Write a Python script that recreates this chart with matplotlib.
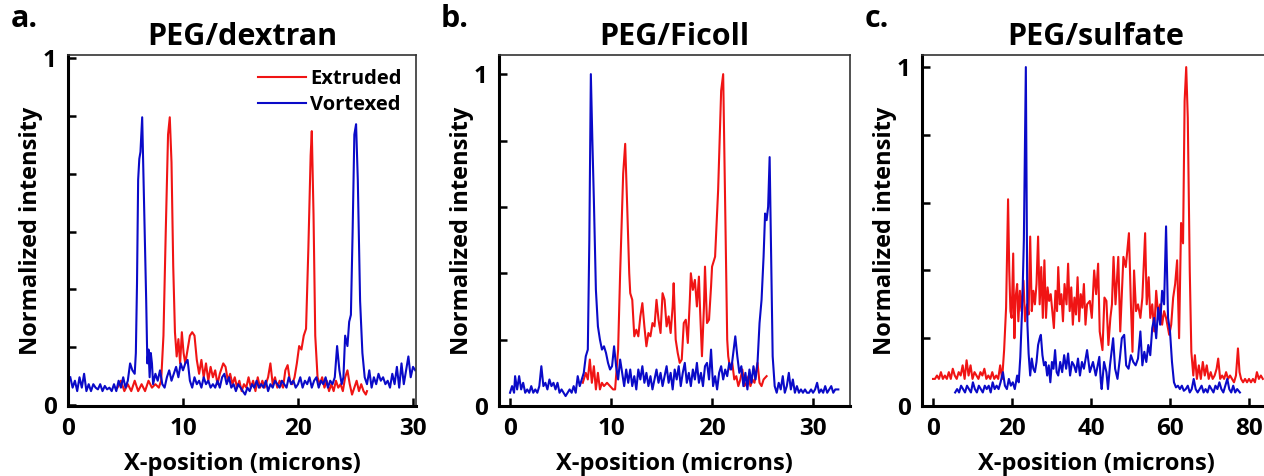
import matplotlib.pyplot as plt

plt.rcParams['font.family'] = ['Open Sans', 'DejaVu Sans']
plt.rcParams['font.weight'] = 'bold'

RED = '#f01414'
BLUE = '#0a0ac8'

# ---- panel a: PEG/dextran ----
a_ext_x = [4.3, 4.6, 4.9, 5.2, 5.5, 5.8, 6.1, 6.4, 6.7, 7.0, 7.3, 7.6, 7.9, 8.1, 8.3, 8.5, 8.7, 8.85, 9.0, 9.15,
           9.3, 9.45, 9.6, 9.75, 9.9, 10.05, 10.2, 10.4, 10.6, 10.8, 11.0, 11.2, 11.4, 11.6, 11.8, 12.0, 12.2, 12.4,
           12.6, 12.8, 13.0, 13.2, 13.5, 13.7, 13.9, 14.1, 14.3, 14.5, 14.7, 14.9, 15.1, 15.3, 15.5, 15.7, 15.9,
           16.1, 16.3, 16.5, 16.7, 16.9, 17.1, 17.4, 17.6, 17.8, 18.0, 18.2, 18.4, 18.7, 18.9, 19.1, 19.3, 19.5,
           19.7, 19.9, 20.1, 20.3, 20.5, 20.7, 20.9, 21.1, 21.2, 21.35, 21.5, 21.7, 21.9, 22.1, 22.3, 22.5, 22.7,
           22.9, 23.1, 23.3, 23.5, 23.7, 23.9, 24.1, 24.3, 24.5, 24.7, 24.9, 25.1, 25.3, 25.5, 25.7, 25.9, 26.0]
a_ext_y = [0.05, 0.07, 0.04, 0.06, 0.04, 0.07, 0.04, 0.06, 0.04, 0.07, 0.05, 0.06, 0.05, 0.07, 0.2, 0.5, 0.78, 0.83, 0.7, 0.4,
           0.21, 0.14, 0.19, 0.12, 0.21, 0.15, 0.12, 0.16, 0.2, 0.21, 0.2, 0.13, 0.09, 0.13, 0.08, 0.12, 0.07, 0.11,
           0.08, 0.1, 0.06, 0.09, 0.12, 0.11, 0.07, 0.09, 0.06, 0.08, 0.05, 0.07, 0.04, 0.06, 0.05, 0.08, 0.05,
           0.07, 0.04, 0.08, 0.05, 0.07, 0.05, 0.08, 0.12, 0.06, 0.08, 0.05, 0.07, 0.05, 0.1, 0.115, 0.07, 0.06,
           0.08, 0.12, 0.17, 0.16, 0.2, 0.22, 0.45, 0.72, 0.79, 0.55, 0.2, 0.08, 0.06, 0.08, 0.05, 0.07, 0.04,
           0.06, 0.04, 0.07, 0.05, 0.06, 0.04, 0.08, 0.1, 0.06, 0.03, 0.05, 0.07, 0.04, 0.06, 0.04, 0.03, 0.04]

a_vor_x = [0.2, 0.4, 0.6, 0.8, 1.0, 1.2, 1.4, 1.6, 1.8, 2.0, 2.2, 2.4, 2.6, 2.8, 3.0, 3.2, 3.4, 3.6, 3.8, 4.0, 4.2,
           4.4, 4.6, 4.8, 5.0, 5.2, 5.4, 5.6, 5.8, 5.9, 6.0, 6.1, 6.2, 6.3, 6.45, 6.6, 6.8, 6.9, 7.0, 7.1, 7.2, 7.3,
           7.4, 7.6, 7.8, 8.0, 8.2, 8.4, 8.6, 8.8, 9.0, 9.2, 9.4, 9.6, 9.8, 10.0, 10.2, 10.4, 10.6, 10.8, 11.0,
           11.2, 11.4, 11.6, 11.8, 12.0, 12.2, 12.4, 12.6, 12.8, 13.0, 13.2, 13.4, 13.6, 13.8, 14.0, 14.2, 14.4,
           14.6, 14.8, 15.0, 15.2, 15.4, 15.6, 15.8, 16.0, 16.2, 16.4, 16.6, 16.8, 17.0, 17.2, 17.4, 17.6, 17.8,
           18.0, 18.2, 18.4, 18.6, 18.8, 19.0, 19.2, 19.4, 19.6, 19.8, 20.0, 20.2, 20.4, 20.6, 20.8, 21.0, 21.2,
           21.4, 21.6, 21.8, 22.0, 22.2, 22.4, 22.6, 22.8, 23.0, 23.2, 23.4, 23.6, 23.8, 23.95, 24.1, 24.3, 24.45,
           24.6, 24.75, 24.9, 25.05, 25.2, 25.4, 25.6, 25.8, 26.0, 26.2, 26.4, 26.6, 26.8, 27.0, 27.2, 27.4, 27.6,
           27.8, 28.0, 28.2, 28.4, 28.6, 28.8, 29.0, 29.2, 29.4, 29.6, 29.8, 30.0, 30.2]
a_vor_y = [0.08, 0.05, 0.07, 0.04, 0.08, 0.05, 0.09, 0.04, 0.06, 0.04, 0.06, 0.05, 0.045, 0.06, 0.04, 0.055, 0.045, 0.05, 0.04, 0.06, 0.04,
           0.07, 0.05, 0.08, 0.05, 0.07, 0.12, 0.1, 0.09, 0.15, 0.35, 0.65, 0.71, 0.73, 0.83, 0.6, 0.3, 0.12, 0.16, 0.08, 0.15, 0.12,
           0.06, 0.09, 0.07, 0.1, 0.06, 0.05, 0.08, 0.1, 0.07, 0.09, 0.11, 0.08, 0.12, 0.1, 0.12, 0.13, 0.07, 0.05, 0.08,
           0.06, 0.07, 0.05, 0.08, 0.06, 0.07, 0.05, 0.06, 0.05, 0.07, 0.05, 0.08, 0.09, 0.06, 0.08, 0.05, 0.06,
           0.04, 0.06, 0.05, 0.04, 0.03, 0.05, 0.04, 0.06, 0.05, 0.07, 0.05, 0.06, 0.05, 0.07, 0.04, 0.06, 0.05,
           0.07, 0.06, 0.05, 0.07, 0.06, 0.05, 0.08, 0.06, 0.07, 0.05, 0.06, 0.08, 0.05, 0.07, 0.06, 0.08, 0.05,
           0.07, 0.08, 0.05, 0.07, 0.06, 0.08, 0.05, 0.07, 0.06, 0.08, 0.17, 0.1, 0.06, 0.08, 0.2, 0.17, 0.24,
           0.26, 0.5, 0.78, 0.81, 0.65, 0.3, 0.15, 0.08, 0.06, 0.1, 0.05, 0.08, 0.06, 0.09, 0.07, 0.08, 0.06,
           0.07, 0.05, 0.09, 0.06, 0.11, 0.05, 0.12, 0.06, 0.1, 0.14, 0.08, 0.11, 0.1]

# ---- panel b: PEG/Ficoll ----
b_ext_x = [7.2, 7.5, 7.7, 7.9, 8.1, 8.3, 8.5, 8.7, 8.9, 9.1, 9.3, 9.6, 9.9, 10.2, 10.4, 10.7, 10.9, 11.2, 11.4, 11.6,
           11.8, 11.9, 12.1, 12.3, 12.5, 12.7, 12.9, 13.1, 13.3, 13.5, 13.7, 13.9, 14.1, 14.3, 14.5, 14.7, 14.9,
           15.1, 15.3, 15.5, 15.7, 15.9, 16.1, 16.2, 16.4, 16.6, 16.8, 17.0, 17.2, 17.4, 17.6, 17.8, 17.9, 18.1,
           18.3, 18.5, 18.7, 18.8, 19.0, 19.2, 19.3, 19.5, 19.7, 19.9, 20.0, 20.3, 20.6, 20.9, 21.1, 21.3, 21.5,
           21.6, 21.8, 22.0, 22.2, 22.4, 22.6, 22.8, 23.0, 23.2, 23.4, 23.6, 23.8, 24.0, 24.2, 24.5, 24.7, 24.9,
           25.1, 25.4]
b_ext_y = [0.07, 0.1, 0.08, 0.14, 0.07, 0.12, 0.05, 0.1, 0.05, 0.07, 0.06, 0.07, 0.06, 0.05, 0.05, 0.17, 0.4, 0.7, 0.79, 0.6,
           0.4, 0.34, 0.32, 0.21, 0.23, 0.21, 0.27, 0.31, 0.24, 0.18, 0.22, 0.21, 0.25, 0.24, 0.32, 0.26, 0.22,
           0.34, 0.32, 0.24, 0.27, 0.22, 0.3, 0.37, 0.2, 0.16, 0.13, 0.14, 0.25, 0.26, 0.19, 0.32, 0.4, 0.35,
           0.38, 0.3, 0.39, 0.3, 0.15, 0.3, 0.42, 0.25, 0.26, 0.36, 0.42, 0.45, 0.65, 0.95, 1.0, 0.6, 0.2,
           0.15, 0.11, 0.13, 0.08, 0.09, 0.06, 0.08, 0.11, 0.06, 0.07, 0.09, 0.06, 0.08, 0.07, 0.13, 0.07, 0.06,
           0.08, 0.09]

b_vor_x = [0.0, 0.2, 0.4, 0.5, 0.7, 0.9, 1.1, 1.3, 1.5, 1.7, 1.9, 2.1, 2.3, 2.5, 2.7, 2.9, 3.1, 3.3, 3.5, 3.7, 3.9,
           4.1, 4.3, 4.5, 4.7, 4.9, 5.1, 5.3, 5.5, 5.7, 5.9, 6.1, 6.3, 6.5, 6.7, 6.9, 7.1, 7.3, 7.5, 7.7, 7.85, 8.0,
           8.15, 8.3, 8.5, 8.7, 8.9, 9.1, 9.3, 9.5, 9.7, 9.9, 10.1, 10.3, 10.5, 10.7, 10.9, 11.1, 11.3, 11.5, 11.7,
           11.9, 12.1, 12.3, 12.5, 12.7, 12.9, 13.1, 13.3, 13.5, 13.7, 13.9, 14.1, 14.3, 14.5, 14.7, 14.9, 15.1,
           15.3, 15.5, 15.7, 15.9, 16.1, 16.3, 16.5, 16.7, 16.9, 17.1, 17.3, 17.5, 17.7, 17.9, 18.1, 18.3, 18.5,
           18.7, 18.9, 19.1, 19.3, 19.5, 19.7, 19.9, 20.1, 20.3, 20.5, 20.7, 20.9, 21.1, 21.3, 21.5, 21.7, 21.9,
           22.1, 22.3, 22.5, 22.7, 22.9, 23.1, 23.3, 23.5, 23.7, 23.9, 24.1, 24.3, 24.5, 24.7, 24.9, 25.1, 25.25,
           25.4, 25.55, 25.7, 25.85, 26.0, 26.2, 26.4, 26.6, 26.8, 27.0, 27.2, 27.4, 27.6, 27.8, 28.0, 28.2, 28.4,
           28.6, 28.8, 29.0, 29.2, 29.4, 29.6, 29.8, 30.0, 30.2, 30.4, 30.6, 30.8, 31.0, 31.2, 31.4, 31.6, 31.8,
           32.0, 32.2, 32.5]
b_vor_y = [0.04, 0.06, 0.04, 0.09, 0.05, 0.09, 0.05, 0.07, 0.04, 0.05, 0.04, 0.06, 0.04, 0.05, 0.04, 0.06, 0.12, 0.06, 0.07, 0.05, 0.08,
           0.06, 0.07, 0.05, 0.07, 0.04, 0.05, 0.04, 0.03, 0.04, 0.05, 0.04, 0.06, 0.04, 0.09, 0.06, 0.08, 0.1, 0.15, 0.17, 0.5, 1.0,
           0.8, 0.62, 0.35, 0.24, 0.2, 0.17, 0.18, 0.16, 0.13, 0.11, 0.12, 0.18, 0.12, 0.08, 0.14, 0.1, 0.06, 0.11, 0.07,
           0.11, 0.06, 0.09, 0.05, 0.11, 0.08, 0.12, 0.07, 0.1, 0.06, 0.09, 0.05, 0.08, 0.11, 0.07, 0.1, 0.06,
           0.09, 0.12, 0.07, 0.1, 0.05, 0.11, 0.08, 0.12, 0.06, 0.1, 0.13, 0.07, 0.1, 0.06, 0.11, 0.08, 0.13,
           0.07, 0.1, 0.06, 0.12, 0.13, 0.08, 0.17, 0.06, 0.09, 0.05, 0.1, 0.12, 0.08, 0.11, 0.09, 0.13, 0.11,
           0.16, 0.21, 0.15, 0.1, 0.12, 0.06, 0.1, 0.05, 0.11, 0.07, 0.12, 0.08, 0.13, 0.25, 0.32, 0.45, 0.58,
           0.56, 0.6, 0.75, 0.45, 0.15, 0.06, 0.04, 0.07, 0.05, 0.09, 0.04, 0.06, 0.1, 0.05, 0.08, 0.04, 0.06,
           0.04, 0.05, 0.04, 0.05, 0.04, 0.04, 0.05, 0.04, 0.05, 0.07, 0.04, 0.05, 0.04, 0.06, 0.04, 0.05, 0.06,
           0.04, 0.05, 0.05]

# ---- panel c: PEG/sulfate ----
c_ext_x = [0.0, 0.5, 1.0, 1.5, 2.0, 2.5, 3.0, 3.5, 4.0, 4.5, 5.0, 5.5, 6.0, 6.5, 7.0, 7.5, 8.0, 8.5, 9.0, 9.5, 10.0,
           10.5, 11.0, 11.5, 12.0, 12.5, 13.0, 13.5, 14.0, 14.5, 15.0, 15.5, 16.0, 16.5, 17.0, 17.5, 18.0, 18.5,
           19.0, 19.3, 19.6, 19.9, 20.3, 20.6, 20.9, 21.3, 21.6, 22.0, 22.4, 22.9, 23.3, 23.8, 24.2, 24.6, 25.0,
           25.4, 25.8, 26.2, 26.6, 27.0, 27.4, 27.8, 28.2, 28.6, 29.0, 29.4, 29.8, 30.2, 30.6, 31.0, 31.4, 31.7,
           32.1, 32.5, 32.9, 33.3, 33.8, 34.2, 34.6, 35.0, 35.4, 35.8, 36.2, 36.6, 37.0, 37.4, 37.8, 38.2, 38.6,
           39.0, 39.7, 40.2, 40.8, 41.3, 41.8, 42.2, 42.9, 43.4, 43.9, 44.4, 44.9, 45.3, 45.7, 46.2, 46.9, 47.4,
           48.2, 48.8, 49.6, 50.1, 50.5, 50.9, 51.4, 51.9, 52.5, 53.0, 53.7, 54.1, 54.6, 55.0, 55.5, 56.0, 56.5,
           57.0, 57.5, 58.0, 58.5, 59.0, 59.8, 60.3, 60.8, 61.3, 61.8, 62.3, 62.8, 63.3, 63.7, 64.1, 64.5, 65.0,
           65.4, 65.9, 66.3, 66.8, 67.3, 67.8, 68.3, 68.8, 69.3, 69.8, 70.3, 70.8, 71.3, 71.8, 72.2, 72.7, 73.2,
           73.7, 74.2, 74.7, 75.2, 75.7, 76.2, 76.7, 77.2, 77.6, 78.0, 78.5, 79.0, 79.5, 80.0, 80.5, 81.0, 81.5,
           82.0, 82.5, 83.0, 83.5]
c_ext_y = [0.08, 0.08, 0.09, 0.08, 0.1, 0.08, 0.09, 0.08, 0.1, 0.08, 0.11, 0.09, 0.08, 0.1, 0.09, 0.12, 0.08, 0.135, 0.09, 0.12, 0.08,
           0.1, 0.09, 0.08, 0.1, 0.09, 0.11, 0.08, 0.09, 0.08, 0.1, 0.08, 0.09, 0.08, 0.12, 0.08, 0.165, 0.29,
           0.61, 0.4, 0.28, 0.26, 0.45, 0.2, 0.32, 0.36, 0.25, 0.34, 0.28, 0.37, 0.25, 0.3, 0.27, 0.5, 0.28,
           0.34, 0.3, 0.36, 0.5, 0.3, 0.41, 0.26, 0.43, 0.26, 0.35, 0.31, 0.33, 0.28, 0.23, 0.34, 0.28, 0.41,
           0.3, 0.33, 0.25, 0.36, 0.3, 0.42, 0.28, 0.35, 0.24, 0.32, 0.27, 0.38, 0.25, 0.33, 0.29, 0.36, 0.24,
           0.3, 0.31, 0.26, 0.4, 0.33, 0.42, 0.22, 0.165, 0.32, 0.31, 0.18, 0.26, 0.3, 0.44, 0.3, 0.44, 0.22,
           0.44, 0.41, 0.51, 0.3, 0.16, 0.4, 0.28, 0.3, 0.26, 0.32, 0.51, 0.3, 0.38, 0.26, 0.3, 0.22, 0.34,
           0.27, 0.3, 0.24, 0.28, 0.26, 0.21, 0.24, 0.32, 0.36, 0.43, 0.2, 0.54, 0.48, 0.9, 1.0, 0.85, 0.4,
           0.16, 0.09, 0.15, 0.08, 0.12, 0.08, 0.13, 0.09, 0.12, 0.08, 0.1, 0.08, 0.09, 0.11, 0.14, 0.08, 0.09,
           0.08, 0.1, 0.08, 0.09, 0.08, 0.07, 0.09, 0.17, 0.1, 0.08, 0.07, 0.08, 0.07, 0.08, 0.07, 0.08, 0.07,
           0.1, 0.08, 0.09, 0.08]

c_vor_x = [5.6, 6.1, 6.6, 7.1, 7.6, 8.1, 8.6, 9.1, 9.6, 10.1, 10.6, 11.1, 11.6, 12.1, 12.6, 13.1, 13.6, 14.1, 14.6,
           15.1, 15.6, 16.1, 16.6, 17.1, 17.7, 18.2, 18.7, 19.2, 19.7, 20.2, 20.7, 21.3, 21.7, 22.1, 22.6, 23.0,
           23.5, 23.9, 24.2, 24.6, 25.0, 25.4, 25.8, 26.2, 26.6, 27.0, 27.3, 27.7, 28.1, 28.5, 28.9, 29.3, 29.7,
           30.1, 30.5, 30.9, 31.3, 31.7, 32.2, 32.7, 33.2, 33.7, 34.2, 34.7, 35.2, 35.7, 36.2, 36.7, 37.2, 37.7,
           38.2, 39.0, 39.7, 40.5, 41.2, 42.1, 42.5, 42.7, 43.3, 43.9, 44.3, 44.8, 45.3, 45.6, 46.1, 46.7, 47.3,
           47.8, 48.4, 48.9, 49.5, 50.1, 50.7, 51.3, 51.9, 52.5, 53.0, 53.5, 54.0, 54.5, 55.0, 55.5, 56.0, 56.5,
           57.0, 57.5, 58.0, 58.5, 59.0, 59.5, 60.0, 60.5, 61.0, 61.5, 62.0, 62.5, 63.0, 63.5, 64.0, 64.5, 65.0,
           65.5, 66.0, 66.5, 67.0, 67.5, 68.0, 68.5, 69.0, 69.5, 70.0, 70.5, 71.0, 71.5, 72.0, 72.5, 73.0, 73.5,
           74.0, 74.5, 75.0, 75.5, 76.0, 76.5, 77.0, 77.7]
c_vor_y = [0.04, 0.05, 0.04, 0.06, 0.05, 0.04, 0.06, 0.05, 0.04, 0.07, 0.05, 0.04, 0.06, 0.05, 0.04, 0.06, 0.05, 0.06, 0.04,
           0.07, 0.05, 0.06, 0.05, 0.07, 0.1, 0.06, 0.05, 0.08, 0.06, 0.07, 0.05, 0.09, 0.07, 0.145, 0.3, 0.49,
           1.0, 0.24, 0.155, 0.09, 0.14, 0.11, 0.1, 0.13, 0.18, 0.2, 0.21, 0.15, 0.12, 0.13, 0.09, 0.12, 0.07,
           0.13, 0.11, 0.165, 0.1, 0.09, 0.13, 0.1, 0.15, 0.11, 0.155, 0.09, 0.13, 0.12, 0.1, 0.14, 0.09, 0.13,
           0.11, 0.165, 0.1, 0.13, 0.09, 0.145, 0.07, 0.05, 0.13, 0.1, 0.05, 0.12, 0.17, 0.2, 0.11, 0.08, 0.14,
           0.2, 0.21, 0.12, 0.11, 0.15, 0.13, 0.12, 0.14, 0.22, 0.12, 0.16, 0.13, 0.18, 0.15, 0.23, 0.26, 0.2,
           0.29, 0.24, 0.34, 0.3, 0.53, 0.26, 0.22, 0.13, 0.07, 0.055, 0.06, 0.05, 0.06, 0.045, 0.05, 0.06, 0.04,
           0.05, 0.08, 0.05, 0.04, 0.05, 0.06, 0.04, 0.05, 0.04, 0.06, 0.05, 0.04, 0.06, 0.05, 0.07, 0.05, 0.04,
           0.06, 0.08, 0.05, 0.04, 0.06, 0.04, 0.05, 0.04]

panels = [
    dict(letter='a.', title='PEG/dextran', ext=(a_ext_x, a_ext_y), vor=(a_vor_x, a_vor_y),
         pos=[0.0538, 0.147, 0.2753, 0.737], xlim=(0, 30.26), ylim=(-0.003, 1.009),
         xticks=[0, 10, 20, 30], yticks=[0, 1/6, 2/6, 3/6, 4/6, 5/6, 1], legend=True),
    dict(letter='b.', title='PEG/Ficoll', ext=(b_ext_x, b_ext_y), vor=(b_vor_x, b_vor_y),
         pos=[0.3948, 0.147, 0.2777, 0.737], xlim=(-1.09, 33.66), ylim=(0, 1.057),
         xticks=[0, 10, 20, 30], yticks=[0, 0.2, 0.4, 0.6, 0.8, 1], legend=False),
    dict(letter='c.', title='PEG/sulfate', ext=(c_ext_x, c_ext_y), vor=(c_vor_x, c_vor_y),
         pos=[0.7294, 0.147, 0.2753, 0.737], xlim=(-2.8, 85.3), ylim=(0, 1.035),
         xticks=[0, 20, 40, 60, 80], yticks=[0, 0.2, 0.4, 0.6, 0.8, 1], legend=False),
]

fig = plt.figure(figsize=(12.64, 4.76), dpi=100)

for p in panels:
    ax = fig.add_axes(p['pos'])
    ax.plot(p['ext'][0], p['ext'][1], color=RED, lw=1.5, label='Extruded')
    ax.plot(p['vor'][0], p['vor'][1], color=BLUE, lw=1.5, label='Vortexed')
    ax.set_xlim(*p['xlim'])
    ax.set_ylim(*p['ylim'])
    ax.set_xticks(p['xticks'])
    ax.set_yticks(p['yticks'])
    ylabels = [''] * len(p['yticks'])
    ylabels[0] = '0'
    ylabels[-1] = '1'
    ax.set_yticklabels(ylabels)
    ax.tick_params(direction='in', length=6, width=1.8, labelsize=17.5, pad=8)
    for side in ['left', 'bottom']:
        ax.spines[side].set_linewidth(2.2)
    for side in ['top', 'right']:
        ax.spines[side].set_linewidth(1.2)
        ax.spines[side].set_color('#333333')
    ax.set_xlabel('X-position (microns)', fontsize=17, fontweight='bold', labelpad=8)
    ax.set_ylabel('Normalized intensity', fontsize=17, fontweight='bold', labelpad=0)
    ax.set_title(p['title'], fontsize=22, fontweight='bold', pad=7)
    ax.text(-0.165, 1.06, p['letter'], transform=ax.transAxes, fontsize=22,
            fontweight='bold', va='bottom', ha='left')
    if p['legend']:
        ax.legend(loc='upper right', frameon=False, fontsize=14.5, handlelength=2.4,
                  handletextpad=0.2, borderaxespad=0.3, labelspacing=0.3)

fig.savefig('out.png', dpi=100)
